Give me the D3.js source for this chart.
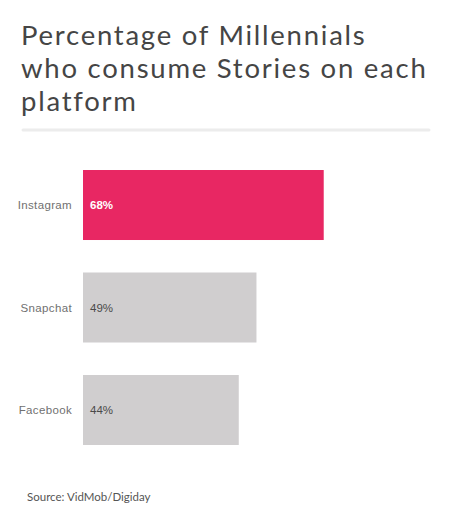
<!DOCTYPE html>
<html><head><meta charset="utf-8">
<script src="https://cdn.jsdelivr.net/npm/d3@7"></script>
<style>body{margin:0;background:#fff}</style>
</head><body>
<script>
const categories = ["Instagram", "Snapchat", "Facebook"];
const values = [68, 49, 44];
const valueLabels = ["68%", "49%", "44%"];
const titleLines = ["Percentage of Millennials", "who consume Stories on each", "platform"];
const source = "Source: VidMob/Digiday";

const W = 458, H = 512;
const svg = d3.select("body").append("svg").attr("width", W).attr("height", H);

svg.selectAll("text.title").data(titleLines).enter().append("text")
  .attr("class", "title")
  .attr("x", 21).attr("y", (d, i) => 45 + i * 33)
  .attr("font-family", "Lato, sans-serif").attr("font-size", 27.5)
  .attr("letter-spacing", 1.75)
  .attr("fill", "#454545").text(d => d);

svg.append("line").attr("x1", 23).attr("x2", 429).attr("y1", 130).attr("y2", 130)
  .attr("stroke", "#ececec").attr("stroke-width", 3).attr("stroke-linecap", "round");

const x = d3.scaleLinear().domain([0, 100]).range([83, 437]);
const y = d3.scaleBand().domain(categories).range([153, 462]).paddingInner(0.317).paddingOuter(0.166);

const g = svg.append("g");
g.selectAll("rect").data(categories).enter().append("rect")
  .attr("x", x(0)).attr("y", d => y(d))
  .attr("width", (d, i) => x(values[i]) - x(0)).attr("height", y.bandwidth())
  .attr("fill", (d, i) => i === 0 ? "#e82763" : "#d0cecf");

g.selectAll("text.cat").data(categories).enter().append("text")
  .attr("class", "cat")
  .attr("x", 72).attr("y", d => y(d) + y.bandwidth() / 2 + 4)
  .attr("text-anchor", "end").attr("font-family", "'Liberation Sans', Arial, sans-serif")
  .attr("font-size", 11.5).attr("letter-spacing", 0.35).attr("fill", "#707070").text(d => d);

g.selectAll("text.val").data(categories).enter().append("text")
  .attr("class", "val")
  .attr("x", 90).attr("y", d => y(d) + y.bandwidth() / 2 + 4)
  .attr("font-family", "'Liberation Sans', Arial, sans-serif")
  .attr("font-size", 11.5).attr("font-weight", (d, i) => i === 0 ? "bold" : "normal")
  .attr("fill", (d, i) => i === 0 ? "#ffffff" : "#4a4a4a").text((d, i) => valueLabels[i]);

svg.append("text").attr("x", 27).attr("y", 501)
  .attr("font-family", "Lato, sans-serif").attr("font-size", 11.5)
  .attr("fill", "#555").text(source);
</script>
</body></html>
